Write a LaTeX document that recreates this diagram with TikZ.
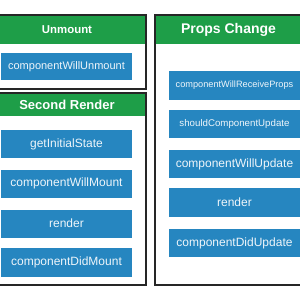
\documentclass[tikz,border=0pt]{standalone}
\usepackage{fontspec}
\setmainfont{Liberation Sans}
\definecolor{hgreen}{RGB}{30,158,72}
\definecolor{mblue}{RGB}{38,134,192}
\tikzset{
  frame/.style={draw=black!85, line width=1.1pt},
  header/.style={fill=hgreen, text=white, inner sep=0pt, font=\bfseries},
  method/.style={fill=mblue, text=white!92!mblue, inner sep=0pt, minimum width=131pt, minimum height=28pt},
}
\newcommand{\fs}[1]{\fontsize{#1}{#1}\selectfont}
\begin{document}
\begin{tikzpicture}[x=1pt,y=-1pt]
\useasboundingbox[fill=white] (0,0) rectangle (300,300);
% Unmount panel
\fill[white] (-12,15) rectangle (146,89);
\node[header, minimum width=158pt, minimum height=29pt, font=\bfseries\fs{11.4}] (hU) at (67,29.5) {Unmount};
\node[method, minimum height=27pt, font=\fs{11}] (cwun) at (66.5,66.5) {componentWillUnmount};
\draw[frame] (-12,15) rectangle (146,89);
% Second Render panel
\fill[white] (-12,93) rectangle (146,285);
\node[header, minimum width=158pt, minimum height=23pt, font=\bfseries\fs{13}] (hS) at (67,104.5) {Second Render};
\node[method, font=\fs{12}] (gis) at (66.5,144) {getInitialState};
\node[method, font=\fs{12}] (cwm) at (66.5,183.5) {componentWillMount};
\node[method, font=\fs{12}] (r1) at (66.5,223.5) {render};
\node[method, minimum height=29pt, font=\fs{12}] (cdm) at (66.5,262.5) {componentDidMount};
\draw[frame] (-12,93) rectangle (146,285);
% Props Change panel
\fill[white] (155,15) rectangle (302,285);
\node[header, minimum width=147pt, minimum height=29pt, font=\bfseries\fs{14}] (hP) at (228.5,29.5) {Props Change};
\node[method, minimum width=131pt, minimum height=29pt, font=\fs{9.2}] (cwrp) at (234.5,85.5) {componentWillReceiveProps};
\node[method, font=\fs{9.7}] (scu) at (234.5,124) {shouldComponentUpdate};
\node[method, font=\fs{12}] (cwu) at (234.5,164) {componentWillUpdate};
\node[method, minimum height=29pt, font=\fs{12}] (r2) at (234.5,202.5) {render};
\node[method, font=\fs{12}] (cdu) at (234.5,243) {componentDidUpdate};
\draw[frame] (155,15) rectangle (302,285);
\end{tikzpicture}
\end{document}
